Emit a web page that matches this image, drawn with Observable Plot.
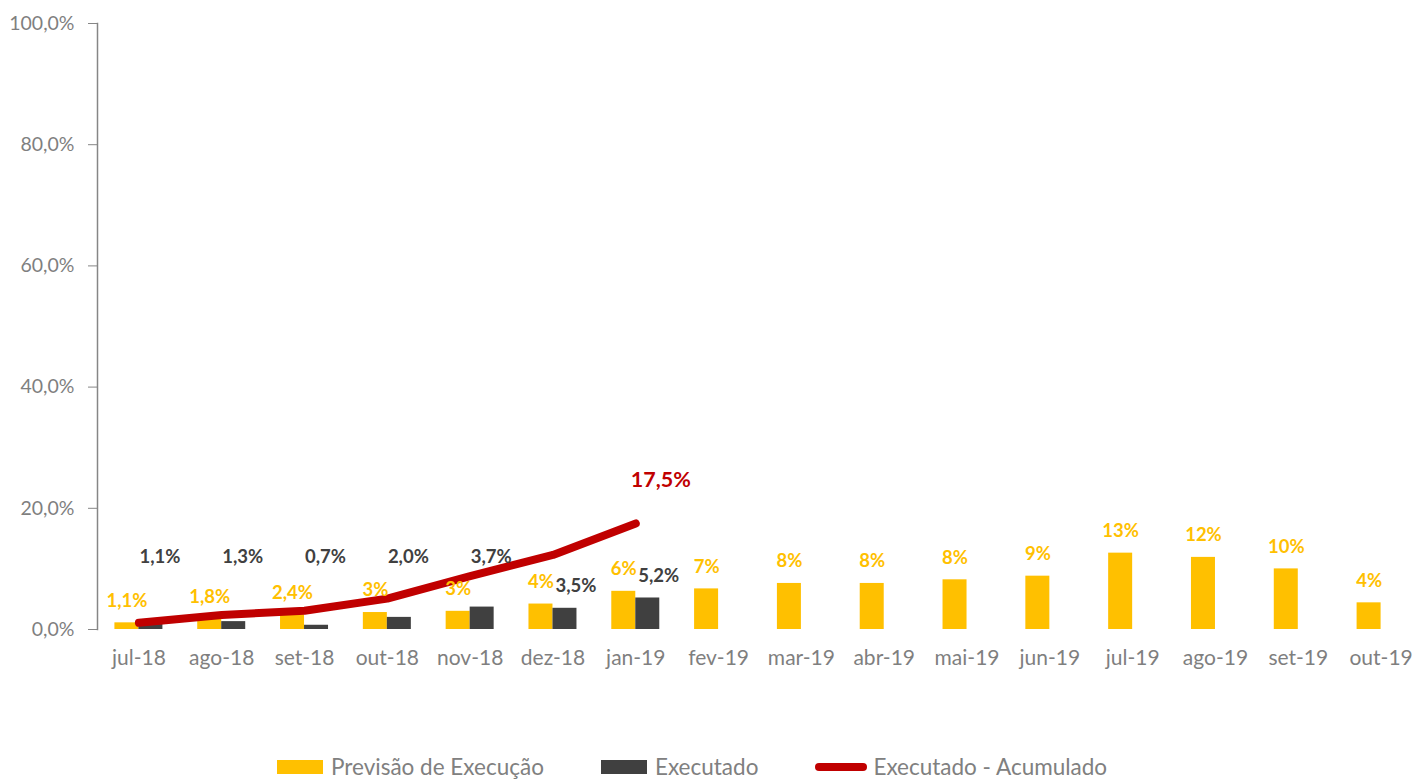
<!DOCTYPE html>
<html>
<head>
<meta charset="utf-8">
<script src="https://cdn.jsdelivr.net/npm/d3@7"></script>
<script src="https://cdn.jsdelivr.net/npm/@observablehq/plot@0.6"></script>
<style>
  body { margin: 0; background: #fff; font-family: Lato, "Open Sans", sans-serif; }
  #chart svg { display: block; }
  #legend { position: relative; width: 1422px; height: 41px; display: flex; align-items: center;
            padding-left: 277px; box-sizing: border-box; padding-top: 12px;
            font-family: Lato, "Open Sans", sans-serif; font-size: 22.5px; color: #808080; }
  .item { display: flex; align-items: center; margin-right: 57px; }
  .sw { width: 46px; height: 14px; margin-right: 8px; }
  .ln { width: 52px; height: 8px; border-radius: 4px; margin-right: 6px; }
</style>
</head>
<body>
<div id="chart"></div>
<div id="legend"></div>
<script>
// ---- data ----
const months = ["jul-18","ago-18","set-18","out-18","nov-18","dez-18","jan-19","fev-19",
                "mar-19","abr-19","mai-19","jun-19","jul-19","ago-19","set-19","out-19"];
const previsao = [1.1, 1.8, 2.4, 2.8, 3.0, 4.2, 6.3, 6.7, 7.6, 7.6, 8.2, 8.8, 12.6, 11.9, 10.0, 4.4];
const previsaoLabels = ["1,1%","1,8%","2,4%","3%","3%","4%","6%","7%","8%","8%","8%","9%","13%","12%","10%","4%"];
const executado = [1.1, 1.3, 0.7, 2.0, 3.7, 3.5, 5.2];
const executadoLabels = ["1,1%","1,3%","0,7%","2,0%","3,7%","3,5%","5,2%"];
const acumulado = [1.1, 2.4, 3.1, 5.1, 8.8, 12.3, 17.5];
const acumuladoLabel = "17,5%";
const yTicks = [0, 20, 40, 60, 80, 100];
const seriesNames = ["Previsão de Execução", "Executado", "Executado - Acumulado"];

// ---- colours & layout ----
const cPrev = "#FFC000", cExec = "#404040", cCum = "#C00000";
const W = 1422, H = 740, mL = 97, mR = 0, mT = 23, mB = 111;
const band = (W - mL - mR) / months.length;
const barW = 24;
const outer = (band - 2 * barW) / 2;
const labelRow = 12; // executed labels sit in a row unless the line passes above it

const prevData = months.map((m, i) => ({month: m, value: previsao[i], label: previsaoLabels[i]}));
const execData = executado.map((v, i) => ({month: months[i], value: v, label: executadoLabels[i], cum: acumulado[i]}));
const lastCum = [execData[execData.length - 1]];

const fmt = d => d.toFixed(1).replace(".", ",") + "%";

const chart = Plot.plot({
  width: W, height: H,
  marginLeft: mL, marginRight: mR, marginTop: mT, marginBottom: mB,
  style: {fontFamily: "Lato, 'Open Sans', sans-serif", background: "white", color: "#7f7f7f", overflow: "visible"},
  x: {type: "band", domain: months, padding: 0, round: false, label: null},
  y: {domain: [0, 100], label: null},
  marks: [
    Plot.frame({anchor: "left", stroke: "#868686", strokeWidth: 1.5}),
    Plot.axisY({ticks: yTicks, tickFormat: fmt, tickSize: 9, tickPadding: 14, fontSize: 19.5, label: null, stroke: "#868686"}),
    Plot.axisX({tickSize: 0, tickPadding: 21, fontSize: 21, label: null}),
    Plot.barY(prevData, {x: "month", y: "value", fill: cPrev, insetLeft: outer, insetRight: outer + barW}),
    Plot.barY(execData, {x: "month", y: "value", fill: cExec, insetLeft: outer + barW, insetRight: outer}),
    Plot.line(execData, {x: "month", y: "cum", stroke: cCum, strokeWidth: 8, strokeLinecap: "round", strokeLinejoin: "round"}),
    Plot.text(prevData, {x: "month", y: "value", text: "label", dx: -barW / 2, dy: -22,
      fill: cPrev, fontWeight: "bold", fontSize: 18.5}),
    Plot.text(execData.filter(d => d.cum < labelRow), {x: "month", y: () => labelRow, text: "label", dx: barW / 2 + 9,
      fill: cExec, fontWeight: "bold", fontSize: 18.5}),
    Plot.text(execData.filter(d => d.cum >= labelRow), {x: "month", y: "value", text: "label", dx: barW / 2 + 11, dy: -22,
      fill: cExec, fontWeight: "bold", fontSize: 18.5}),
    Plot.text(lastCum, {x: "month", y: "cum", text: () => acumuladoLabel, dx: 25, dy: -43,
      fill: cCum, fontWeight: "bold", fontSize: 21.5})
  ]
});
document.getElementById("chart").appendChild(chart);

// ---- legend ----
const legend = document.getElementById("legend");
const swatches = [
  {name: seriesNames[0], color: cPrev, cls: "sw"},
  {name: seriesNames[1], color: cExec, cls: "sw"},
  {name: seriesNames[2], color: cCum, cls: "ln"}
];
swatches.forEach(s => {
  const it = document.createElement("div");
  it.className = "item";
  const sw = document.createElement("div");
  sw.className = s.cls;
  sw.style.background = s.color;
  const tx = document.createElement("span");
  tx.textContent = s.name;
  it.appendChild(sw); it.appendChild(tx);
  legend.appendChild(it);
});
</script>
</body>
</html>
